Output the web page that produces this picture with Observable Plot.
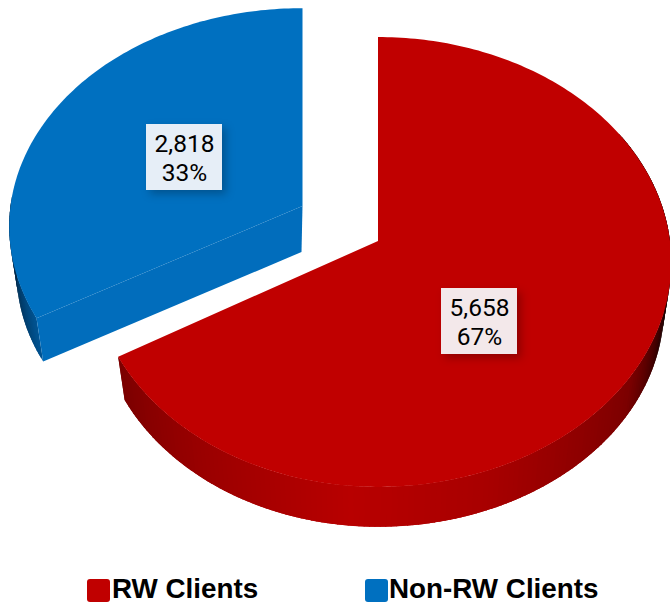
<!DOCTYPE html>
<html><head><meta charset="utf-8">
<script src="https://cdn.jsdelivr.net/npm/d3@7"></script>
<script src="https://cdn.jsdelivr.net/npm/@observablehq/plot@0.6"></script>
<style>
html,body{margin:0;padding:0;background:#fff;width:670px;height:604px;overflow:hidden}
#chart{position:absolute;left:0;top:0}
.lg{position:absolute;top:575px;height:28px;font:bold 27.8px/28px "Liberation Sans",sans-serif;color:#000;white-space:nowrap}
.sw{position:absolute;top:579px;width:23px;height:23px;border-radius:3px}
</style></head><body>
<div id="chart"></div>
<script>
const names = ["RW Clients", "Non-RW Clients"];
const values = [5658, 2818];
const colors = ["#c00000", "#0070c0"];
const sideColors = ["#016dbc", "#016dbc"];
const legendSwatchX = [87, 365];
const legendTextX = [112, 389];

// Pseudo-3D geometry of each wedge (layout only)
const view = [
  {ax: 378, ay: 241, sy: 1.00, left: 0.977, depth: 46, wall: [[60,"#000"],[98,"#000"],[125,"#7c0000"],[160,"#a80000"],[185,"#b80000"],[215,"#9a0000"],[241,"#7a0000"]]},
  {ax: 302.5, ay: 206, sy: 0.97, left: 1, depth: 46, wall: [[240,"#005595"],[252,"#003a66"],[270,"#00182c"]]}
];
const R = 292, S = 223, K = 0.0933, shrink = 0.975;

const arcs = d3.pie().sort(null).startAngle(0).endAngle(2*Math.PI)(values);
function pt(i, a, bottom) {
  const v = view[i], u = Math.sin(a), w = -Math.cos(a), s = bottom ? shrink : 1, d = 1 - K*w;
  return [v.ax + s*R*(u < 0 ? v.left : 1)*u/d, v.ay + (bottom ? v.depth : 0) + s*S*v.sy*w/d];
}
const step = Math.PI/180;
const topRows = [], wallRows = [], sideRows = [];
arcs.forEach((arc, i) => {
  const v = view[i];
  const col = d3.scaleLinear().domain(v.wall.map(d => d[0]*step)).range(v.wall.map(d => d[1])).clamp(true);
  const n = Math.ceil((arc.endAngle-arc.startAngle)/step);
  for (let j = 0; j <= n; j++) {
    const a = arc.startAngle + (arc.endAngle-arc.startAngle)*j/n;
    const p = pt(i, a, false);
    topRows.push({i, x1: v.ax, y1: v.ay, x2: p[0], y2: p[1]});
    if (j < n && a >= v.wall[0][0]*step - step && a <= v.wall[v.wall.length-1][0]*step + step) {
      // each quad reaches over the next one so that no seams show between them
      const a2 = Math.min(a+2.2*step, arc.endAngle);
      const q = pt(i, a, true), p2 = pt(i, a2, false), q2 = pt(i, a2, true), c = col(a+step/2), z = i+"-"+j;
      wallRows.push({z, x1: p[0], y1: p[1], x2: q[0], y2: q[1], c});
      wallRows.push({z, x1: p2[0], y1: p2[1], x2: q2[0], y2: q2[1], c});
    }
  }
});
// Radial cut wall of the pulled-out Non-RW wedge
{
  const i = 1, a = arcs[1].startAngle, p = pt(i,a,false), q = pt(i,a,true), v = view[i];
  sideRows.push({z:"s", x1:p[0], y1:p[1], x2:q[0], y2:q[1]});
  sideRows.push({z:"s", x1:v.ax, y1:v.ay, x2:v.ax-1, y2:v.ay+v.depth});
}
const wallOf = i => wallRows.filter(d => d.z.startsWith(i+"-"));
const topOf = i => topRows.filter(d => d.i === i);

const labelAt = [{x: 479, y: 321}, {x: 184, y: 157}];
const labels = arcs.map((arc, i) => ({
  ...labelAt[i],
  text: d3.format(",")(values[i]) + "\n" + d3.format(".0%")(values[i]/d3.sum(values)),
  bg: i === 0 ? "#f3e8ea" : "#e6eef7"
}));

const areaOpts = {x1:"x1", y1:"y1", x2:"x2", y2:"y2"};
const plot = Plot.plot({
  width: 670, height: 572, margin: 0,
  x: {axis: null, domain: [0,670], range: [0,670]},
  y: {axis: null, domain: [0,572], range: [0,572]},
  color: {type: "identity"},
  marks: [
    Plot.area(wallOf(1), {...areaOpts, z:"z", fill:"c"}),
    Plot.area(sideRows, {...areaOpts, z:"z", fill: sideColors[1]}),
    Plot.area(topOf(1), {...areaOpts, fill: colors[1]}),
    Plot.area(wallOf(0), {...areaOpts, z:"z", fill:"c"}),
    Plot.area(topOf(0), {...areaOpts, fill: colors[0]}),
    Plot.rect(labels, {x1: d => d.x-38, x2: d => d.x+38, y1: d => d.y-33, y2: d => d.y+33, fill:"bg",
      imageFilter:"drop-shadow(4px 4px 4px rgba(0,0,0,0.25))"}),
    Plot.text(labels, {x:"x", y:"y", text:"text", fontSize:24.5, lineHeight:1.184, fill:"#000",
      fontFamily:'Roboto,sans-serif', lineAnchor:"middle"})
  ]
});
document.getElementById("chart").append(plot);
names.forEach((n,i) => {
  const s = document.createElement("div"); s.className="sw"; s.style.left=legendSwatchX[i]+"px"; s.style.background=colors[i]; document.body.append(s);
  const t = document.createElement("div"); t.className="lg"; t.style.left=legendTextX[i]+"px"; t.textContent=n; document.body.append(t);
});
</script>
</body></html>
